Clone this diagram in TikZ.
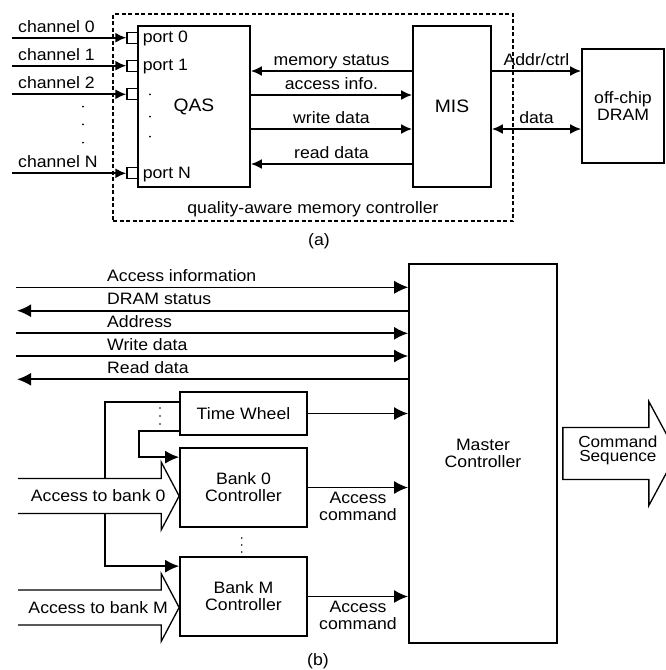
\documentclass[tikz,border=0pt]{standalone}
\usepackage{fontspec}
\setmainfont[FakeStretch=1.07]{Liberation Sans}
\usetikzlibrary{arrows.meta}
\usetikzlibrary{positioning}
\tikzset{
  box/.style={draw, line width=1.7pt, fill=white, inner sep=0pt, align=center},
  port/.style={draw, line width=1.3pt, fill=white, minimum size=11pt, inner sep=0pt},
  sig/.style={line width=2pt, -{Latex[length=11pt, width=10pt]}},
  sig both/.style={line width=2pt, {Latex[length=11pt, width=10pt]}-{Latex[length=11pt, width=10pt]}},
  sig label/.style={anchor=base, yshift=6pt, inner sep=0pt},
  bus/.style={line width=1.9pt, -{Latex[length=14pt, width=13pt]}},
  bus label/.style={anchor=base west, inner sep=0pt},
  wide arrow/.style={line width=1.3pt},
}
\newcommand{\accessarrow}[2]{%
% white body first, so that the lines below it are hidden
\fill[white] (#1) -- ++(-18,-34) -- ++(0,16.5) -- ++(-143,0) -- ++(0,35) -- ++(143,0) -- ++(0,16.5) -- cycle;
% outline, open on the left
\draw[wide arrow] ([shift={(-161,-17.5)}]#1) -- ++(143,0) -- ++(0,-16.5) -- (#1) -- ++(-18,34) -- ++(0,-16.5) -- ++(-143,0);
\node (#1-text) at ([xshift=-81pt]#1) {#2};
}

\begin{document}
\begin{tikzpicture}[x=1pt, y=-1pt, font=\fontsize{16.5}{17}\selectfont]
\clip (0,0) rectangle (666,670);
% (a) quality-aware memory controller
\node[draw, line width=1.4pt, dash pattern=on 4pt off 2.5pt, minimum width=400pt, minimum height=207pt] (mc) at (313,117.5) {};
\node[anchor=base] (mctext) at ([yshift=8pt]mc.south) {quality-aware memory controller};
\node[box, minimum width=112pt, minimum height=161pt, font=\fontsize{18}{19}\selectfont] (qas) at (194,106.5) {QAS};
\node[box, minimum width=78pt, minimum height=161pt, font=\fontsize{18}{19}\selectfont] (mis) at (452,106.5) {MIS};
\node[box, minimum width=82pt, minimum height=114pt] (dram) at (623,106) {off-chip\\DRAM};
% channels and ports
\foreach \i/\y/\t in {0/37.7/channel 0, 1/65.7/channel 1, 2/94.3/channel 2, n/173.3/channel N} {
  \node[port] (p\i) at (132.5,\y) {};
  \coordinate (c\i) at (12,\y);
  \draw[sig] (c\i) -- (p\i);
  \node[anchor=base west, inner sep=0pt] (cl\i) at ([shift={(6,-5.5)}]c\i) {\t};
}
\foreach \i/\t in {0/port 0, 1/port 1, n/port N}
  \node[anchor=base west, inner sep=0pt] (pl\i) at ([shift={(4,5)}]p\i.east) {\t};
\foreach \y in {106.7,124.3,142.7} \fill (83,\y) circle (1pt);
\foreach \y in {94.3,116.7,136.7} \fill (150,\y) circle (1pt);
% QAS <-> MIS
\coordinate (memstat) at (0,71);
\coordinate (accinfo) at (0,95);
\coordinate (wrdata) at (0,129);
\coordinate (rddata) at (0,164);
\draw[sig] (mis.west |- memstat) -- (qas.east |- memstat) node[sig label, midway] {memory status};
\draw[sig] (qas.east |- accinfo) -- (mis.west |- accinfo) node[sig label, midway] {access info.};
\draw[sig] (qas.east |- wrdata) -- (mis.west |- wrdata) node[sig label, midway] {write data};
\draw[sig] (mis.west |- rddata) -- (qas.east |- rddata) node[sig label, midway] {read data};
% MIS <-> DRAM
\draw[sig] (mis.east |- memstat) -- (dram.west |- memstat) node[sig label, midway] {Addr/ctrl};
\draw[sig both] (mis.east |- wrdata) -- (dram.west |- wrdata) node[sig label, midway] {data};
\node (capa) at (319,241.7) {(a)};

% (b) master controller
\node[box, minimum width=148pt, minimum height=379pt] (master) at (483,453.5) {Master\\Controller};
\node[box, minimum width=127pt, minimum height=43pt] (tw) at (243.5,413.5) {Time Wheel};
\node[box, minimum width=127pt, minimum height=79pt] (bank0) at (243.5,487.5) {Bank 0\\Controller};
\node[box, minimum width=127pt, minimum height=79pt] (bankm) at (243.5,596.5) {Bank M\\Controller};
% bus lines
\coordinate (ai) at (16,287.3);
\coordinate (ds) at (17,310.7);
\coordinate (ad) at (16,333.3);
\coordinate (wd) at (16,356);
\coordinate (rd) at (17,379.3);
\draw[bus, line width=0.8pt] (ai) -- (master.west |- ai);
\draw[bus] (master.west |- ds) -- (ds);
\draw[bus] (ad) -- (master.west |- ad);
\draw[bus] (wd) -- (master.west |- wd);
\draw[bus] (master.west |- rd) -- (rd);
\node[bus label] (ailabel) at ([shift={(91,-6)}]ai) {Access information};
\node[bus label] (dslabel) at ([shift={(90,-6)}]ds) {DRAM status};
\node[bus label] (adlabel) at ([shift={(91,-6)}]ad) {Address};
\node[bus label] (wdlabel) at ([shift={(91,-6)}]wd) {Write data};
\node[bus label] (rdlabel) at ([shift={(90,-6)}]rd) {Read data};
% time wheel to the banks
\draw[bus, line width=1.6pt] ([yshift=5pt]tw.south west) -- ++(-40,0) |- ([yshift=-10pt]bank0.north west);
\draw[bus, line width=1.6pt] ([yshift=-11pt]tw.north west) -- ++(-74,0) |- ([yshift=-10pt]bankm.north west);
\foreach \y in {408,416,424} \fill (160,\y) circle (0.9pt);
\foreach \y in {538,545,552} \fill (241.7,\y) circle (0.9pt);
% into the master controller
\draw[bus] (tw.east) -- (master.west |- tw.east);
\draw[bus] (bank0.east) -- (master.west |- bank0.east) node[midway, below=4pt, inner sep=0pt, align=center] (acc0) {Access\\command};
\draw[bus] (bankm.east) -- (master.west |- bankm.east) node[midway, below=4pt, inner sep=0pt, align=center] (accm) {Access\\command};
% access streams
\coordinate (b0tip) at ([yshift=-8.5pt]bank0.west);
\coordinate (bmtip) at ([yshift=-11pt]bankm.west);
\accessarrow{b0tip}{Access to bank 0}
\accessarrow{bmtip}{Access to bank M}
% command sequence
\draw[wide arrow, fill=white] ([shift={(5,-26)}]master.east) -- ++(86,0) -- ++(0,-26) -- ++(28,52) -- ++(-28,52) -- ++(0,-26) -- ++(-86,0) -- cycle;
\node[align=center, font=\fontsize{16}{14.5}\selectfont] (cmdtext) at ([shift={(60,-3)}]master.east) {Command\\Sequence};
\node (capb) at (318,661.7) {(b)};
\end{tikzpicture}
\end{document}
